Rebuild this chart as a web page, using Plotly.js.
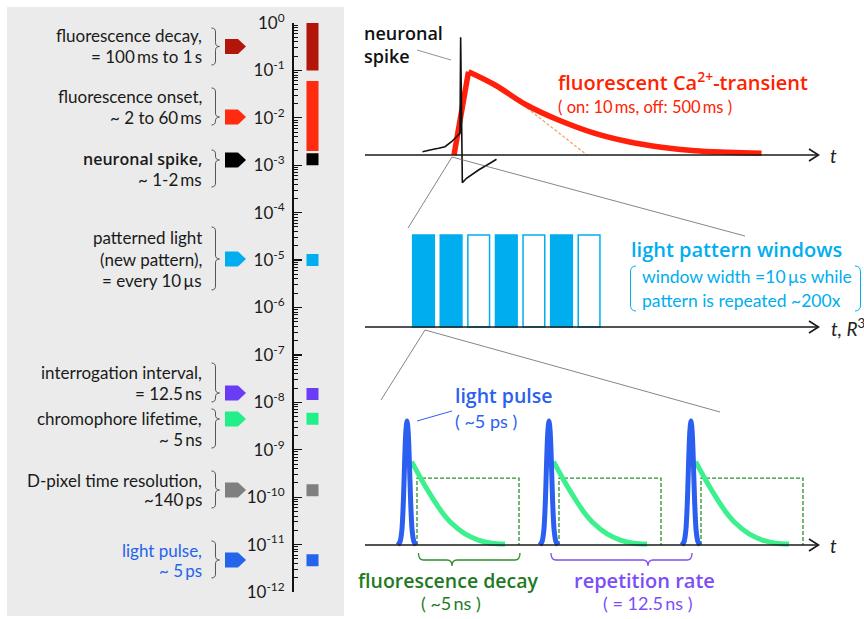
<!DOCTYPE html>
<html><head><meta charset="utf-8">
<script src="https://cdn.plot.ly/plotly-3.0.1.min.js"></script>
<style>html,body{margin:0;padding:0;background:#fff}</style>
</head><body><div id="chart" style="width:864px;height:619px"></div>
<script>
// ================= DATA =================
// left: time-scale ladder (seconds)
const labelLines = [
  ['fluorescence decay,', '= 100\u2009ms to 1\u2009s'],
  ['fluorescence onset,', '~ 2 to 60\u2009ms'],
  ['neuronal spike,', '~ 1-2\u2009ms'],
  ['patterned light', '(new pattern),', '= every 10\u2009µs'],
  ['interrogation interval,', '= 12.5\u2009ns'],
  ['chromophore lifetime,', '~ 5\u2009ns'],
  ['D-pixel time resolution,', '~140\u2009ps'],
  ['light pulse,', '~ 5\u2009ps']
];
const rangeNames = ['fluorescence decay', 'fluorescence onset', 'neuronal spike'];
const rangeLo = [0.1, 0.002, 0.001];
const rangeHi = [1, 0.06, 0.0018];
const pointNames = ['patterned light', 'interrogation interval', 'chromophore lifetime', 'D-pixel time resolution', 'light pulse'];
const pointVals = [1e-5, 1.5e-8, 4.5e-9, 1.4e-10, 4.7e-12];
const tickVals = [1, 1e-1, 1e-2, 1e-3, 1e-4, 1e-5, 1e-6, 1e-7, 1e-8, 1e-9, 1e-10, 1e-11, 1e-12];
const tickText = ['10<sup>0</sup>', '10<sup>-1</sup>', '10<sup>-2</sup>', '10<sup>-3</sup>', '10<sup>-4</sup>', '10<sup>-5</sup>',
  '10<sup>-6</sup>', '10<sup>-7</sup>', '10<sup>-8</sup>', '10<sup>-9</sup>', '10<sup>-10</sup>', '10<sup>-11</sup>', '10<sup>-12</sup>'];

// top panel: neuronal spike and Ca transient (arbitrary time units / amplitude)
const spikeT = [15.5, 16.7, 17.7, 18.7, 20.0, 21.3, 22.3, 23.0, 23.13, 23.47, 24.3, 26.7, 29.0, 30.3];
const spikeV = [0.026, 0.034, 0.046, 0.054, 0.066, 0.106, 0.146, 0.174, 0.942, -0.222, -0.186, -0.12, -0.066, -0.034];
const riseT = [21.8, 24.7];
const riseV = [0, 0.666];
const decayT = [24.7, 30.0, 36.3, 42.7, 50.0, 56.7, 63.3, 70.0, 76.7, 83.3];
const decayV = [0.666, 0.56, 0.40, 0.28, 0.173, 0.106, 0.062, 0.034, 0.022, 0.014];
const tangentT = [36.4, 48.4];
const tangentV = [0.376, 0];

// middle panel: light pattern windows
const windowIdx = [1, 2, 3, 4, 5, 6, 7];
const windowOn = [1, 1, 0, 1, 0, 1, 0];

// bottom panel (ns)
const pulseTimes = [0, 12.5, 25];
const pulseShapeT = [-0.8, -0.6, -0.45, -0.32, -0.2, -0.1, 0, 0.1, 0.2, 0.32, 0.45, 0.6, 0.8];
const pulseShapeV = [0, 0.03, 0.12, 0.35, 0.7, 0.92, 1, 0.92, 0.7, 0.35, 0.12, 0.03, 0];
const fluoT = [0.41, 1.29, 2.17, 3.05, 3.93, 5.11, 6.28, 7.45, 8.63];
const fluoV = [0.672, 0.524, 0.39, 0.269, 0.175, 0.089, 0.040, 0.014, 0.008];
const gateT = [0.88, 0.88, 9.86, 9.86];
const gateV = [0, 0.54, 0.54, 0];

// ================= STYLE / LAYOUT =================
const W = 864, H = 619;
const X = px => px / W, Y = py => 1 - py / H;
const P = (x, y) => X(x).toFixed(5) + ',' + Y(y).toFixed(5);
const FONT = 'Lato, "Open Sans", sans-serif';
const BFONT = '"Open Sans", Lato, sans-serif';
const rangeColors = ['#b3150b', '#ff2b0f', '#000000'];
const pointColors = ['#00aeef', '#6a3cf4', '#22ef8a', '#7f7f7f', '#2463ec'];
const tagColors = ['#b3150b', '#ff2b0f', '#000000', '#00aeef', '#6a3cf4', '#22ef8a', '#7f7f7f', '#2463ec'];
const labelLineY = [[36, 57], [96, 117], [159, 180], [237, 259, 280], [373, 393], [418, 439], [480, 500], [550, 570]];
const tagY = [46.5, 117, 160, 259, 393, 419, 490, 560];
const braceY = [[28, 65, 46.5], [88, 125, 117], [150, 187, 160], [227, 290, 259], [363, 402, 393], [409, 448, 419], [471, 508, 490], [541, 578, 560]];

const traces = [];
// left ladder ranges
rangeNames.forEach((n, i) => traces.push({
  type: 'scatter', mode: 'lines', name: n, x: [1, 1], y: [rangeLo[i], rangeHi[i]],
  xaxis: 'x', yaxis: 'y', line: {color: rangeColors[i], width: 12}, hoverinfo: 'skip'
}));
traces.push({
  type: 'scatter', mode: 'markers', name: 'timescales', x: pointVals.map(() => 1), y: pointVals, text: pointNames,
  xaxis: 'x', yaxis: 'y', marker: {symbol: 'square', size: 12, color: pointColors}, hoverinfo: 'skip'
});

// top panel
traces.push({type: 'scatter', mode: 'lines', x: tangentT, y: tangentV, xaxis: 'x2', yaxis: 'y2',
  line: {color: '#f2a060', width: 1.2, dash: '3px,2px'}, hoverinfo: 'skip'});
traces.push({type: 'scatter', mode: 'lines', x: riseT, y: riseV, xaxis: 'x2', yaxis: 'y2',
  line: {color: '#ff1f0a', width: 5.5}, hoverinfo: 'skip'});
traces.push({type: 'scatter', mode: 'lines', x: decayT, y: decayV, xaxis: 'x2', yaxis: 'y2',
  line: {color: '#ff1f0a', width: 5.5, shape: 'spline', smoothing: 1}, hoverinfo: 'skip'});
traces.push({type: 'scatter', mode: 'lines', x: spikeT, y: spikeV, xaxis: 'x2', yaxis: 'y2',
  line: {color: '#111111', width: 1.6}, hoverinfo: 'skip'});

// middle panel
traces.push({type: 'bar', x: windowIdx, y: windowIdx.map(() => 1), width: 0.786, xaxis: 'x3', yaxis: 'y3',
  marker: {color: windowOn.map(o => o ? '#00aeef' : '#ffffff'), line: {color: '#00aeef', width: 1.5}}, hoverinfo: 'skip'});

// bottom panel
function repeat(ts, vs) {
  const xx = [], yy = [];
  pulseTimes.forEach(t0 => { ts.forEach((t, k) => { xx.push(t0 + t); yy.push(vs[k]); }); xx.push(null); yy.push(null); });
  return [xx, yy];
}
const g = repeat(gateT, gateV), f = repeat(fluoT, fluoV), p = repeat(pulseShapeT, pulseShapeV);
traces.push({type: 'scatter', mode: 'lines', x: g[0], y: g[1], xaxis: 'x4', yaxis: 'y4',
  line: {color: '#2d8f2d', width: 1.3, dash: '4px,2px'}, hoverinfo: 'skip'});
traces.push({type: 'scatter', mode: 'lines', x: f[0], y: f[1], xaxis: 'x4', yaxis: 'y4',
  line: {color: '#3cf08e', width: 5, shape: 'spline', smoothing: 1}, hoverinfo: 'skip'});
traces.push({type: 'scatter', mode: 'lines', x: p[0], y: p[1], xaxis: 'x4', yaxis: 'y4',
  line: {color: '#2b5ff0', width: 5, shape: 'spline', smoothing: 0.8}, hoverinfo: 'skip'});

// ---- decorations ----
const shapes = [];
shapes.push({type: 'rect', xref: 'paper', yref: 'paper', x0: X(7), x1: X(344), y0: Y(616), y1: Y(7),
  fillcolor: '#ebebeb', line: {width: 0}, layer: 'below'});
function seg(x0, y0, x1, y1, color, width) {
  shapes.push({type: 'line', xref: 'paper', yref: 'paper', x0: X(x0), y0: Y(y0), x1: X(x1), y1: Y(y1),
    line: {color: color, width: width}});
}
function path(d, color, width, fill) {
  shapes.push({type: 'path', xref: 'paper', yref: 'paper', path: d,
    line: {color: color, width: width}, fillcolor: fill || 'rgba(0,0,0,0)'});
}
// tags and braces
tagY.forEach((c, i) => {
  path('M' + P(225, c - 7.5) + ' L' + P(238, c - 7.5) + ' L' + P(246, c) + ' L' + P(238, c + 7.5) + ' L' + P(225, c + 7.5) + ' Z',
    tagColors[i], 0, tagColors[i]);
  const [t, b, m] = braceY[i];
  const x0 = 211.5, xv = 215.5, xt = 219.5, r = 4;
  path('M' + P(x0, t) + ' Q' + P(xv, t) + ' ' + P(xv, t + r) + ' L' + P(xv, m - r) + ' Q' + P(xv, m) + ' ' + P(xt, m) +
    ' Q' + P(xv, m) + ' ' + P(xv, m + r) + ' L' + P(xv, b - r) + ' Q' + P(xv, b) + ' ' + P(x0, b), '#555555', 1);
});
// time axes with chevrons
[155, 327, 545].forEach(y => {
  seg(365, y, 818, y, '#1a1a1a', 1.6);
  path('M' + P(809, y - 6) + ' L' + P(818.5, y) + ' L' + P(809, y + 6), '#1a1a1a', 1.6);
});
// zoom connector lines
seg(452, 157, 408, 228, '#666666', 0.8);
seg(452, 157, 745, 236, '#666666', 0.8);
seg(425, 330, 381, 400, '#666666', 0.8);
seg(425, 330, 720, 412, '#666666', 0.8);
// pointers
seg(417, 50, 451, 60, '#777777', 0.8);
seg(417, 421, 452, 411, '#2b5ff0', 1);
// parentheses around pattern note
path('M' + P(636, 266) + ' Q' + P(630.5, 266) + ' ' + P(630.5, 272) + ' L' + P(630.5, 305) + ' Q' + P(630.5, 311) + ' ' + P(636, 311), '#00aeef', 1);
path('M' + P(855, 266) + ' Q' + P(860.5, 266) + ' ' + P(860.5, 272) + ' L' + P(860.5, 305) + ' Q' + P(860.5, 311) + ' ' + P(855, 311), '#00aeef', 1);
// horizontal braces under bottom panel
function hbrace(a, b, xm, color) {
  const y0 = 553, y1 = 560, y2 = 566, r = 5;
  path('M' + P(a, y0) + ' Q' + P(a, y1) + ' ' + P(a + r, y1) + ' L' + P(xm - r, y1) + ' Q' + P(xm, y1) + ' ' + P(xm, y2) +
    ' Q' + P(xm, y1) + ' ' + P(xm + r, y1) + ' L' + P(b - r, y1) + ' Q' + P(b, y1) + ' ' + P(b, y0), color, 1.3);
}
hbrace(418.5, 520, 452, '#2d8f2d');
hbrace(551, 692, 648, '#7b4ef7');

// ---- annotations ----
const ann = [];
function txt(x, y, text, opt) {
  opt = opt || {};
  ann.push({xref: 'paper', yref: 'paper', x: X(x), y: Y(y), text: text, showarrow: false,
    xanchor: opt.anchor || 'left', yanchor: 'middle', align: opt.anchor === 'right' ? 'right' : 'left',
    font: {family: opt.bold ? BFONT : FONT, weight: opt.bold ? 600 : 400, size: opt.size || 17.5, color: opt.color || '#1a1a1a'}});
}
labelLines.forEach((lines, i) => lines.forEach((l, k) => {
  const bold = (i === 2 && k === 0);
  txt(204, labelLineY[i][k], l, {anchor: 'right', size: bold ? 16 : 17, bold: bold, color: i === 7 ? '#2463ec' : '#1a1a1a'});
}));
txt(362, 44.5, 'neuronal<br>spike', {size: 18, bold: true, color: '#111'});
txt(556, 81, 'fluorescent Ca<sup>2+</sup>-transient', {size: 20, bold: true, color: '#ff2200'});
txt(556, 107, '( on: 10\u2009ms, off: 500\u2009ms )', {size: 16.5, color: '#ff2200'});
txt(828, 155, '<i>t</i>', {size: 19, color: '#222'});
txt(629, 249, 'light pattern windows', {size: 20, bold: true, color: '#00aeef'});
txt(640, 277, 'window width =10\u2009µs while', {size: 17.5, color: '#00aeef'});
txt(640, 300, 'pattern is repeated ~200x', {size: 17.5, color: '#00aeef'});
txt(829, 327, '<i>t, R</i><sup>3</sup>', {size: 19, color: '#222'});
txt(453, 395, 'light pulse', {size: 19.5, bold: true, color: '#2b5ff0'});
txt(453, 421, '( ~5 ps )', {size: 18, color: '#2b5ff0'});
txt(828, 545, '<i>t</i>', {size: 19, color: '#222'});
txt(448, 580, 'fluorescence decay', {anchor: 'center', size: 19.5, bold: true, color: '#1f7a1f'});
txt(451, 603, '( ~5\u2009ns )', {anchor: 'center', size: 18, color: '#1f7a1f'});
txt(644, 580, 'repetition rate', {anchor: 'center', size: 20, bold: true, color: '#7b4ef7'});
txt(648, 603, '( = 12.5\u2009ns )', {anchor: 'center', size: 18, color: '#7b4ef7'});

const hidden = {visible: false, showgrid: false, zeroline: false, fixedrange: true};
const layout = {
  width: W, height: H, margin: {l: 0, r: 0, t: 0, b: 0},
  paper_bgcolor: '#ffffff', plot_bgcolor: 'rgba(0,0,0,0)', showlegend: false,
  font: {family: FONT},
  xaxis: Object.assign({}, hidden, {domain: [X(293.5), X(340)], range: [0, 2.447], anchor: 'y'}),
  yaxis: {
    type: 'log', domain: [Y(592), Y(23)], range: [-12, 0], anchor: 'x', fixedrange: true,
    showline: true, linecolor: '#111', linewidth: 1.5, showgrid: false, zeroline: false,
    tickmode: 'array', tickvals: tickVals, ticktext: tickText,
    ticks: 'inside', ticklen: 8, tickwidth: 1.2, tickcolor: '#111', ticklabelstandoff: 4,
    tickfont: {family: FONT, size: 17, color: '#1a1a1a'},
    minor: {tickmode: 'linear', dtick: 'D1', ticks: 'inside', ticklen: 4, tickwidth: 1, tickcolor: '#111', showgrid: false}
  },
  xaxis2: Object.assign({}, hidden, {domain: [X(345), 1], range: [0, 103.8], anchor: 'y2'}),
  yaxis2: Object.assign({}, hidden, {domain: [Y(192.5), Y(30)], range: [-0.3, 1.0], anchor: 'x2'}),
  xaxis3: Object.assign({}, hidden, {domain: [X(345), 1], range: [-1.844, 16.96], anchor: 'y3'}),
  yaxis3: Object.assign({}, hidden, {domain: [Y(340), Y(200)], range: [-0.1413, 1.3804], anchor: 'x3'}),
  xaxis4: Object.assign({}, hidden, {domain: [X(345), 1], range: [-5.458, 40.23], anchor: 'y4'}),
  yaxis4: Object.assign({}, hidden, {domain: [Y(560), Y(380)], range: [-0.121, 1.331], anchor: 'x4'}),
  shapes: shapes, annotations: ann
};
Plotly.newPlot('chart', traces, layout, {staticPlot: true, displayModeBar: false});
</script></body></html>
